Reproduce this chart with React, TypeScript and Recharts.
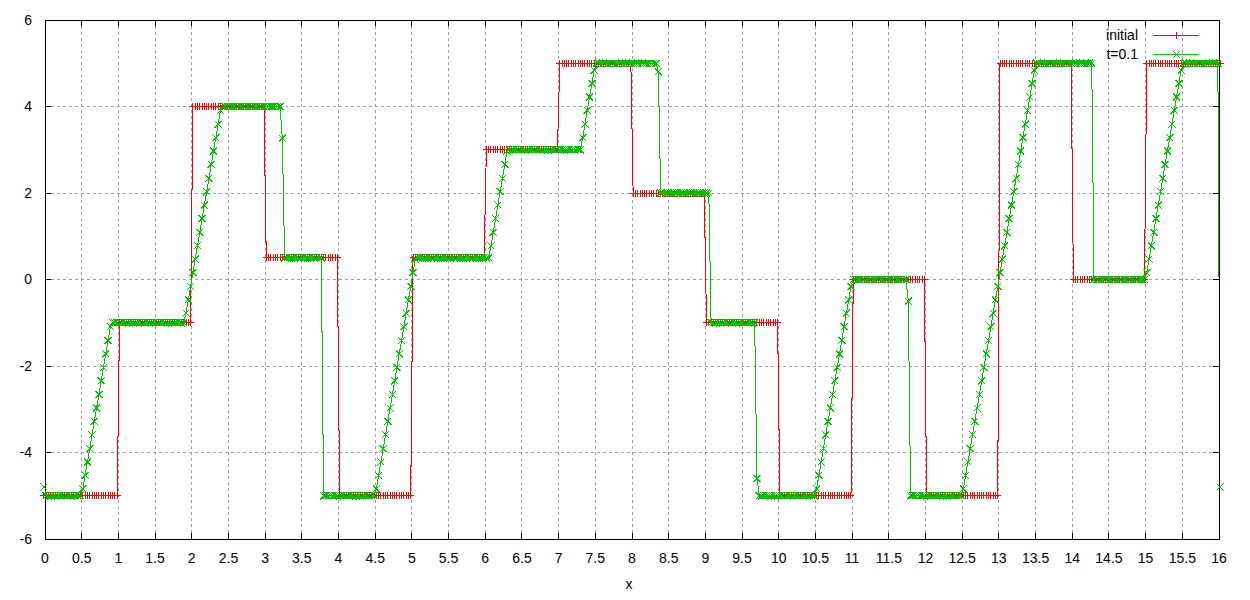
import React from 'react';
import {
  LineChart,
  Line,
  XAxis,
  YAxis,
  CartesianGrid,
  ReferenceArea,
  Legend,
} from 'recharts';

// samples sit at cell centres, dx = 1/32, with one ghost cell at each end
const CELLS_PER_UNIT = 32;

const xDomain = [0, 16];
const yDomain = [-6, 6];
const xTicks = [
  0, 0.5, 1, 1.5, 2, 2.5, 3, 3.5, 4, 4.5, 5, 5.5, 6, 6.5, 7, 7.5, 8,
  8.5, 9, 9.5, 10, 10.5, 11, 11.5, 12, 12.5, 13, 13.5, 14, 14.5, 15, 15.5, 16,
];
const yTicks = [-6, -4, -2, 0, 2, 4, 6];

const seriesNames = ['initial', 't=0.1'];

// [value, repeat] runs, read left to right (ghost cells included)
const initialRuns: [number, number][] = [
  [-5, 33], [-1, 32], [4, 32], [0.5, 32], [-5, 32], [0.5, 32], [3, 32], [5, 32],
  [2, 32], [-1, 32], [-5, 32], [0, 32], [-5, 32], [5, 32], [0, 32], [5, 33],
];

// plain numbers are single samples (fans and shock cells), pairs are flat runs
const t01Runs: (number | [number, number])[] = [
  -4.8,
  [-5, 16],
  -4.84, -4.53, -4.22, -3.91, -3.59, -3.28, -2.97, -2.66, -2.34, -2.03, -1.72, -1.41, -1.09,
  [-1, 32],
  -0.78, -0.47, -0.16, 0.16, 0.47, 0.78, 1.09, 1.41, 1.72, 2.03, 2.34, 2.66, 2.97, 3.28, 3.59, 3.91,
  [4, 26],
  3.27,
  [0.5, 17],
  [-5, 23],
  -4.84, -4.53, -4.22, -3.91, -3.59, -3.28, -2.97, -2.66, -2.34, -2.03, -1.72, -1.41, -1.09,
  -0.78, -0.47, -0.16, 0.16, 0.47,
  [0.5, 32],
  0.78, 1.09, 1.41, 1.72, 2.03, 2.34, 2.66, 2.97,
  [3, 32],
  3.28, 3.59, 3.91, 4.22, 4.53, 4.84,
  [5, 27],
  4.8,
  [2, 22],
  [-1, 20],
  -4.6,
  [-5, 25],
  -4.84, -4.53, -4.22, -3.91, -3.59, -3.28, -2.97, -2.66, -2.34, -2.03, -1.72, -1.41, -1.09,
  -0.78, -0.47, -0.16,
  [0, 24],
  -0.5,
  [-5, 23],
  -4.84, -4.53, -4.22, -3.91, -3.59, -3.28, -2.97, -2.66, -2.34, -2.03, -1.72, -1.41, -1.09,
  -0.78, -0.47, -0.16, 0.16, 0.47, 0.78, 1.09, 1.41, 1.72, 2.03, 2.34, 2.66, 2.97, 3.28, 3.59,
  3.91, 4.22, 4.53, 4.84,
  [5, 25],
  [0, 23],
  0.16, 0.47, 0.78, 1.09, 1.41, 1.72, 2.03, 2.34, 2.66, 2.97, 3.28, 3.59, 3.91, 4.22, 4.53, 4.84,
  [5, 16],
  -4.8,
];

const expand = (runs: (number | [number, number])[]) =>
  runs.flatMap((r) => (Array.isArray(r) ? Array(r[1]).fill(r[0]) : [r]));

const initialValues = expand(initialRuns);
const t01Values = expand(t01Runs);

const rows = initialValues.map((v, k) => ({
  x: (k - 0.5) / CELLS_PER_UNIT,
  initial: v,
  t01: t01Values[k],
}));

const W = 1250;
const H = 600;
const MARGIN = { top: 20, right: 31, bottom: 31, left: 0 };
const Y_AXIS_W = 45;
const X_AXIS_H = 30;
const PLOT_TOP = MARGIN.top;
const PLOT_RIGHT = W - MARGIN.right;

const RED = '#ff0000';
const GREEN = '#00c000';
const FONT = '"Liberation Sans", Arial, sans-serif';

const plusPath = (cx: number, cy: number) =>
  `M${cx - 3.5},${cy}H${cx + 3.5}M${cx},${cy - 3.5}V${cy + 3.5}`;
const crossPath = (cx: number, cy: number) =>
  `M${cx - 3.5},${cy - 3.5}L${cx + 3.5},${cy + 3.5}M${cx + 3.5},${cy - 3.5}L${cx - 3.5},${cy + 3.5}`;

const makeDot = (pathFn: (x: number, y: number) => string, color: string) => (p: any) => {
  const { cx, cy, index } = p;
  if (cx == null || cy == null || Number.isNaN(cy)) return <g key={index} />;
  return <path key={index} d={pathFn(cx, cy)} stroke={color} strokeWidth={1} fill="none" />;
};

const XTick = ({ x, y, payload }: any) => (
  <g>
    <line x1={x} x2={x} y1={y} y2={y - 6} stroke="#000" />
    <line x1={x} x2={x} y1={PLOT_TOP} y2={PLOT_TOP + 6} stroke="#000" />
    <text x={x} y={y + 24} textAnchor="middle" fontSize={14} fontFamily={FONT} fill="#000">
      {payload.value}
    </text>
  </g>
);

const YTick = ({ x, y, payload }: any) => (
  <g>
    <line x1={x} x2={x + 6} y1={y} y2={y} stroke="#000" />
    <line x1={PLOT_RIGHT} x2={PLOT_RIGHT - 6} y1={y} y2={y} stroke="#000" />
    <text x={x - 13} y={y + 4.5} textAnchor="end" fontSize={14} fontFamily={FONT} fill="#000">
      {payload.value}
    </text>
  </g>
);

const LegendBox = ({ payload }: any) => (
  <svg width={140} height={50} style={{ display: 'block' }}>
    {(payload || []).map((item: any, i: number) => {
      const ly = 15.5 + i * 19;
      const isRed = item.dataKey === 'initial';
      const color = isRed ? RED : GREEN;
      return (
        <g key={item.value} shapeRendering="crispEdges">
          <text x={58} y={ly + 4.5} textAnchor="end" fontSize={14} fontFamily={FONT} fill="#000">
            {item.value}
          </text>
          <line x1={73} x2={119} y1={ly} y2={ly} stroke={color} />
          <path d={isRed ? plusPath(96.5, ly) : crossPath(96.5, ly)} stroke={color} fill="none" />
        </g>
      );
    })}
  </svg>
);

export default function App() {
  return (
    <div
      style={{
        position: 'absolute',
        left: 0,
        top: 0,
        width: W,
        height: H,
        background: '#fff',
        fontFamily: FONT,
      }}
    >
      <style>{`
        .recharts-line-dots { clip-path: none; }
        .recharts-surface path, .recharts-surface line, .recharts-surface rect { shape-rendering: crispEdges; }
      `}</style>
      <LineChart width={W} height={H} data={rows} margin={MARGIN}>
        <CartesianGrid stroke="#a0a0a0" strokeDasharray="3 3" />
        <XAxis
          dataKey="x"
          type="number"
          domain={xDomain}
          ticks={xTicks}
          allowDataOverflow
          height={X_AXIS_H}
          axisLine={false}
          tickLine={false}
          tickSize={0}
          tickMargin={0}
          interval={0}
          tick={(p: any) => <XTick {...p} />}
          label={{ value: 'x', position: 'bottom', offset: 10, fill: '#000', fontSize: 14, dx: -3 }}
        />
        <YAxis
          type="number"
          domain={yDomain}
          ticks={yTicks}
          allowDataOverflow
          width={Y_AXIS_W}
          axisLine={false}
          tickLine={false}
          tickSize={0}
          tickMargin={0}
          interval={0}
          tick={(p: any) => <YTick {...p} />}
        />
        <ReferenceArea
          x1={xDomain[0]}
          x2={xDomain[1]}
          y1={yDomain[0]}
          y2={yDomain[1]}
          fill="none"
          stroke="#000"
          strokeWidth={1}
          fillOpacity={0}
        />
        <Line
          dataKey="initial"
          name={seriesNames[0]}
          type="linear"
          stroke={RED}
          strokeWidth={1}
          dot={makeDot(plusPath, RED)}
          activeDot={false}
          isAnimationActive={false}
        />
        <Line
          dataKey="t01"
          name={seriesNames[1]}
          type="linear"
          stroke={GREEN}
          strokeWidth={1}
          dot={makeDot(crossPath, GREEN)}
          activeDot={false}
          isAnimationActive={false}
        />
        <Legend
          layout="vertical"
          align="center"
          verticalAlign="middle"
          wrapperStyle={{ left: 1080, top: 20, width: 140, height: 50 }}
          content={(p: any) => <LegendBox {...p} />}
        />
      </LineChart>
    </div>
  );
}
